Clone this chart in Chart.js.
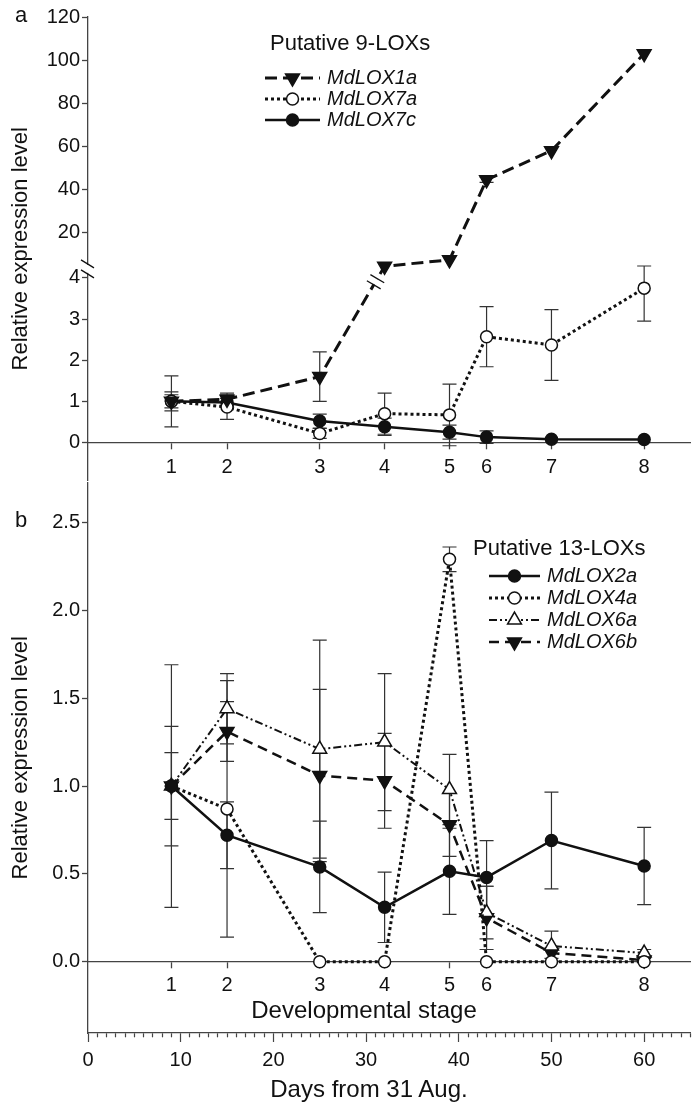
<!DOCTYPE html>
<html>
<head>
<meta charset="utf-8">
<script src="https://cdn.jsdelivr.net/npm/chart.js@4.4.0/dist/chart.umd.min.js"></script>
<style>
  body { margin: 0; background: #fff; width: 700px; height: 1111px; position: relative; overflow: hidden;
         font-family: "Liberation Sans", Arial, sans-serif; color: #111; }
  canvas { position: absolute; left: 0; }
  #chartA { top: 0; }
  #chartB { top: 473px; }
  .txt { position: absolute; line-height: 1; white-space: nowrap; }
  .panel { font-size: 22px; left: 15px; }
  .xtitle { font-size: 24px; transform: translateX(-50%); }
</style>
</head>
<body>
<canvas id="chartA" width="700" height="490"></canvas>
<canvas id="chartB" width="700" height="638"></canvas>
<div class="txt panel" style="top:4px">a</div>
<div class="txt panel" style="top:509px">b</div>
<div class="txt xtitle" style="left:364px;top:998px">Developmental stage</div>
<div class="txt xtitle" style="left:369px;top:1077px">Days from 31 Aug.</div>

<script>
const stages = ['1', '2', '3', '4', '5', '6', '7', '8'];
const stageDays = [9, 15, 25, 32, 39, 43, 50, 60];

// a: putative 9-LOXs (values above 4 go on the compressed upper part of the axis)
const lox1a = [1.0, 1.05, 1.6, 4.4, 7.4, 44.5, 58, 103];
const lox1aErr = [0.23, 0.15, 0.6, 0, 0, 1.2, 0, 0];
const lox7a = [1.0, 0.86, 0.22, 0.7, 0.67, 2.57, 2.37, 3.75];
const lox7aErr = [0.62, 0.3, 0.12, 0.5, 0.75, 0.73, 0.86, 0.8];
const lox7c = [1.0, 0.97, 0.52, 0.38, 0.25, 0.13, 0.08, 0.07];
const lox7cErr = [0.16, 0.1, 0.17, 0.21, 0.17, 0.15, 0, 0];
const lowTicksA = [0, 1, 2, 3, 4];
const highTicksA = [20, 40, 60, 80, 100, 120];

// b: putative 13-LOXs
const lox2a = [1.0, 0.72, 0.54, 0.31, 0.515, 0.48, 0.69, 0.545];
const lox2aErr = [0.34, 0.19, 0.26, 0.2, 0.245, 0.21, 0.275, 0.22];
const lox4a = [1.0, 0.87, 0, 0, 2.29, 0, 0, 0];
const lox4aErr = [0.69, 0.73, 0, 0, 0.07, 0, 0, 0];
const lox6a = [1.0, 1.44, 1.21, 1.25, 0.98, 0.28, 0.09, 0.05];
const lox6aErr = [0.19, 0.2, 0.62, 0.39, 0.2, 0.15, 0.085, 0.02];
const lox6b = [1.0, 1.31, 1.06, 1.03, 0.78, 0.25, 0.05, 0.01];
const lox6bErr = [0, 0.17, 0.49, 0.27, 0.18, 0.18, 0.03, 0.01];
const ticksB = [0, 0.5, 1.0, 1.5, 2.0, 2.5];

// broken axis for panel a
const BREAK_AT = 4;
const HIGH_ZERO = 4.05;
const HIGH_UNIT = 0.0524;
const toAxis = v => v <= BREAK_AT ? v : HIGH_ZERO + v * HIGH_UNIT;
const same = v => v;

const B_TOP = 473; // page offset of the second canvas

Chart.defaults.font.family = '"Liberation Sans", Arial, sans-serif';
Chart.defaults.color = '#111';

const AXIS = '#444';
const INK = '#111';

function series(label, values, err, map, style) {
  return Object.assign({
    label,
    data: values.map((v, i) => ({ x: stageDays[i], y: map(v) })),
    raw: values,
    err,
    borderColor: INK,
    backgroundColor: INK,
    pointBorderColor: INK,
    pointBorderWidth: 1.5,
    tension: 0,
    fill: false
  }, style);
}

const filledCircle = { pointStyle: 'circle', pointRadius: 6, pointBackgroundColor: INK };
const openCircle = { pointStyle: 'circle', pointRadius: 6, pointBackgroundColor: '#fff' };
const openTriangle = { pointStyle: 'triangle', pointRadius: 8, pointBackgroundColor: '#fff' };
const downTriangle = { pointStyle: 'triangle', pointRadius: 8, pointRotation: 180, pointBackgroundColor: INK };

const errorBars = {
  id: 'errorBars',
  beforeDatasetsDraw(chart, args, opts) {
    const { ctx, scales } = chart;
    const map = opts.map || same;
    ctx.save();
    ctx.strokeStyle = '#333';
    ctx.lineWidth = 1.2;
    chart.data.datasets.forEach(ds => {
      ds.raw.forEach((v, i) => {
        const e = ds.err[i];
        if (!e) return;
        const x = scales.x.getPixelForValue(stageDays[i]);
        const yt = scales.y.getPixelForValue(map(v + e));
        const yb = scales.y.getPixelForValue(map(v - e));
        ctx.beginPath();
        ctx.moveTo(x, yt); ctx.lineTo(x, yb);
        ctx.moveTo(x - 7, yt); ctx.lineTo(x + 7, yt);
        ctx.moveTo(x - 7, yb); ctx.lineTo(x + 7, yb);
        ctx.stroke();
      });
    });
    ctx.restore();
  }
};

const insideLegend = {
  id: 'insideLegend',
  afterDraw(chart, args, o) {
    const ctx = chart.ctx;
    ctx.save();
    ctx.textBaseline = 'middle';
    ctx.fillStyle = INK;
    ctx.font = '22px "Liberation Sans", Arial, sans-serif';
    ctx.fillText(o.title, o.left, o.titleY);
    chart.data.datasets.forEach((ds, i) => {
      const y = o.rowY[i];
      ctx.strokeStyle = INK;
      ctx.lineWidth = ds.borderWidth;
      ctx.setLineDash(ds.borderDash || []);
      ctx.beginPath();
      ctx.moveTo(o.sampleFrom, y); ctx.lineTo(o.sampleTo, y);
      ctx.stroke();
      ctx.setLineDash([]);
      ctx.fillStyle = ds.pointBackgroundColor;
      ctx.strokeStyle = INK;
      ctx.lineWidth = ds.pointBorderWidth;
      Chart.helpers.drawPoint(ctx, {
        pointStyle: ds.pointStyle, rotation: ds.pointRotation || 0,
        radius: ds.pointRadius, borderWidth: ds.pointBorderWidth
      }, (o.sampleFrom + o.sampleTo) / 2, y);
      ctx.fillStyle = INK;
      ctx.font = 'italic 20px "Liberation Sans", Arial, sans-serif';
      ctx.fillText(ds.label, o.textX, y);
    });
    ctx.restore();
  }
};

// the // marks on the y axis and on the MdLOX1a line
const breakMarks = {
  id: 'breakMarks',
  afterDraw(chart) {
    const { ctx, chartArea, scales } = chart;
    const ax = chartArea.left;
    const ay = scales.y.getPixelForValue(BREAK_AT) - 9;
    ctx.save();
    ctx.fillStyle = '#fff';
    ctx.fillRect(ax - 2, ay - 4, 4, 8);
    ctx.strokeStyle = INK;
    ctx.lineWidth = 1.3;
    ctx.beginPath();
    ctx.moveTo(ax - 7, ay - 9); ctx.lineTo(ax + 6, ay - 1);
    ctx.moveTo(ax - 7, ay + 1); ctx.lineTo(ax + 6, ay + 9);
    ctx.stroke();

    const pts = chart.getDatasetMeta(0).data;
    const p0 = pts[2], p1 = pts[3];
    const dx = p1.x - p0.x, dy = p1.y - p0.y, len = Math.hypot(dx, dy);
    const ux = dx / len, uy = dy / len, nx = -uy, ny = ux;
    const cx = p0.x + dx * 0.86, cy = p0.y + dy * 0.86;
    ctx.fillStyle = '#fff';
    ctx.beginPath();
    ctx.moveTo(cx - ux * 3 + nx * 4, cy - uy * 3 + ny * 4);
    ctx.lineTo(cx + ux * 3 + nx * 4, cy + uy * 3 + ny * 4);
    ctx.lineTo(cx + ux * 3 - nx * 4, cy + uy * 3 - ny * 4);
    ctx.lineTo(cx - ux * 3 - nx * 4, cy - uy * 3 - ny * 4);
    ctx.fill();
    ctx.beginPath();
    [-3.5, 3.5].forEach(s => {
      ctx.moveTo(cx + ux * s + nx * 8, cy + uy * s + ny * 8);
      ctx.lineTo(cx + ux * s - nx * 8, cy + uy * s - ny * 8);
    });
    ctx.stroke();
    ctx.restore();
  }
};

function yAxis(min, max, tickValues, tickLabels) {
  return {
    min, max,
    grid: { drawOnChartArea: false, tickLength: 6, color: AXIS, tickWidth: 1.3 },
    border: { color: AXIS, width: 1.3 },
    ticks: { font: { size: 20 }, padding: 2, callback: (v, i) => tickLabels[i] },
    afterBuildTicks: s => { s.ticks = tickValues.map(v => ({ value: v })); },
    afterFit: s => { s.width = 88; s.paddingTop = 0; s.paddingBottom = 0; },
    title: { display: true, text: 'Relative expression level', font: { size: 22 }, padding: { top: 8, bottom: 0 } }
  };
}

function stageAxis(padding) {
  return {
    type: 'linear', min: 0, max: 65,
    position: { y: 0 },
    grid: { drawOnChartArea: false, tickLength: 6, color: AXIS, tickWidth: 1.3 },
    border: { color: AXIS, width: 1.3 },
    ticks: { font: { size: 20 }, padding, autoSkip: false, maxRotation: 0, callback: (v, i) => stages[i] },
    afterBuildTicks: s => { s.ticks = stageDays.map(d => ({ value: d })); },
    afterFit: s => { s.paddingLeft = 0; s.paddingRight = 0; }
  };
}

new Chart(document.getElementById('chartA'), {
  type: 'line',
  data: {
    datasets: [
      series('MdLOX1a', lox1a, lox1aErr, toAxis, Object.assign({ borderWidth: 3, borderDash: [12, 6] }, downTriangle)),
      series('MdLOX7a', lox7a, lox7aErr, toAxis, Object.assign({ borderWidth: 3, borderDash: [3, 3] }, openCircle)),
      series('MdLOX7c', lox7c, lox7cErr, toAxis, Object.assign({ borderWidth: 2.5 }, filledCircle))
    ]
  },
  options: {
    responsive: false,
    animation: false,
    layout: { padding: { top: 17, right: 9, bottom: 0, left: 0 } },
    scales: {
      x: stageAxis(7),
      y: yAxis(-0.924, toAxis(120),
        lowTicksA.concat(highTicksA.map(toAxis)),
        lowTicksA.concat(highTicksA).map(String))
    },
    plugins: {
      legend: { display: false },
      tooltip: { enabled: false },
      errorBars: { map: toAxis },
      insideLegend: { title: 'Putative 9-LOXs', left: 270, titleY: 44, rowY: [78, 99, 120], sampleFrom: 265, sampleTo: 320, textX: 327 }
    }
  },
  plugins: [errorBars, insideLegend, breakMarks]
});

new Chart(document.getElementById('chartB'), {
  type: 'line',
  data: {
    datasets: [
      series('MdLOX2a', lox2a, lox2aErr, same, Object.assign({ borderWidth: 2.5 }, filledCircle)),
      series('MdLOX4a', lox4a, lox4aErr, same, Object.assign({ borderWidth: 3, borderDash: [3, 3] }, openCircle)),
      series('MdLOX6a', lox6a, lox6aErr, same, Object.assign({ borderWidth: 2, borderDash: [8, 3, 2, 3, 2, 3] }, openTriangle)),
      series('MdLOX6b', lox6b, lox6bErr, same, Object.assign({ borderWidth: 2.5, borderDash: [10, 6] }, downTriangle))
    ]
  },
  options: {
    responsive: false,
    animation: false,
    layout: { padding: { top: 0, right: 9, bottom: 0, left: 0 } },
    scales: {
      x: stageAxis(6),
      x2: {
        type: 'linear', min: 0, max: 65, position: 'bottom',
        grid: {
          drawOnChartArea: false, tickLength: 9, color: AXIS, tickWidth: 1.2,
          tickBorderDash: c => (c.tick && c.tick.value % 10 === 0) ? [] : [4, 20]
        },
        border: { color: AXIS, width: 1.3 },
        ticks: {
          stepSize: 1, autoSkip: false, maxRotation: 0, font: { size: 20 }, padding: 6,
          callback: v => v % 10 === 0 ? String(v) : ''
        },
        afterFit: s => { s.height = 78; s.paddingLeft = 0; s.paddingRight = 0; }
      },
      y: yAxis(-0.405, 2.727, ticksB, ticksB.map(v => v.toFixed(1)))
    },
    plugins: {
      legend: { display: false },
      tooltip: { enabled: false },
      errorBars: { map: same },
      insideLegend: {
        title: 'Putative 13-LOXs', left: 473, titleY: 549 - B_TOP,
        rowY: [576, 598, 620, 642].map(v => v - B_TOP),
        sampleFrom: 489, sampleTo: 540, textX: 547
      }
    }
  },
  plugins: [errorBars, insideLegend]
});
</script>
</body>
</html>
